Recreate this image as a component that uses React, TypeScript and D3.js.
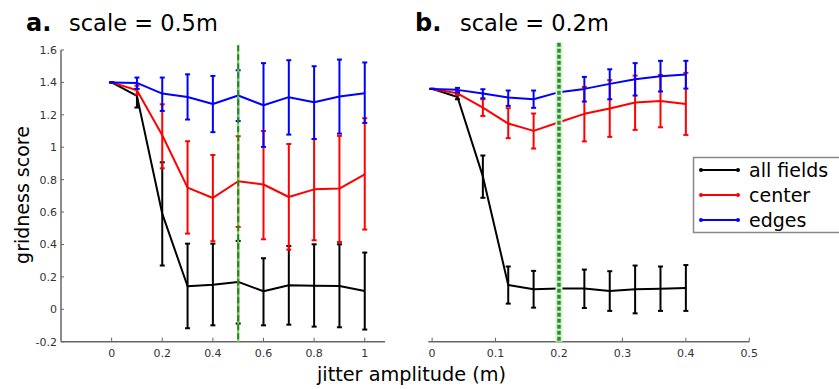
import React from "react";
import * as d3 from "d3";

// ---------- data ----------
const xA = [0, 0.1, 0.2, 0.3, 0.4, 0.5, 0.6, 0.7, 0.8, 0.9, 1.0];
const allA = [1.4, 1.317, 0.59, 0.142, 0.152, 0.169, 0.111, 0.148, 0.146, 0.144, 0.113];
const allALo = [1.4, 1.245, 0.27, -0.117, -0.099, -0.088, -0.099, -0.095, -0.107, -0.111, -0.125];
const allAHi = [1.4, 1.36, 0.907, 0.405, 0.405, 0.422, 0.315, 0.391, 0.401, 0.401, 0.35];
const centerA = [1.4, 1.352, 1.074, 0.751, 0.687, 0.79, 0.77, 0.693, 0.74, 0.745, 0.833];
const centerALo = [1.4, 1.325, 0.87, 0.467, 0.42, 0.508, 0.432, 0.368, 0.426, 0.415, 0.492];
const centerAHi = [1.4, 1.38, 1.265, 1.037, 0.952, 1.068, 1.1, 1.02, 1.05, 1.07, 1.179];
const edgesA = [1.4, 1.397, 1.331, 1.31, 1.267, 1.319, 1.259, 1.309, 1.278, 1.313, 1.333];
const edgesALo = [1.4, 1.36, 1.224, 1.171, 1.093, 1.162, 1.002, 1.078, 1.051, 1.084, 1.15];
const edgesAHi = [1.4, 1.43, 1.43, 1.45, 1.44, 1.475, 1.519, 1.537, 1.5, 1.541, 1.523];

const xB = [0, 0.04, 0.08, 0.12, 0.16, 0.2, 0.24, 0.28, 0.32, 0.36, 0.4];
const allB = [1.36, 1.31, 0.82, 0.15, 0.123, 0.128, 0.128, 0.113, 0.123, 0.126, 0.132];
const allBLo = [1.36, 1.296, 0.688, 0.035, 0.01, 0.01, 0.008, -0.01, -0.025, -0.01, -0.01];
const allBHi = [1.36, 1.33, 0.949, 0.264, 0.237, 0.25, 0.245, 0.235, 0.27, 0.264, 0.273];
const centerB = [1.36, 1.333, 1.245, 1.146, 1.101, 1.154, 1.206, 1.239, 1.276, 1.286, 1.267];
const centerBLo = [1.36, 1.32, 1.193, 1.056, 0.992, 1.05, 1.036, 1.064, 1.107, 1.123, 1.076];
const centerBHi = [1.36, 1.345, 1.296, 1.241, 1.208, 1.26, 1.372, 1.414, 1.442, 1.446, 1.459];
const edgesB = [1.36, 1.354, 1.331, 1.307, 1.296, 1.34, 1.36, 1.391, 1.42, 1.438, 1.449];
const edgesBLo = [1.36, 1.338, 1.302, 1.255, 1.243, 1.3, 1.282, 1.296, 1.319, 1.344, 1.362];
const edgesBHi = [1.36, 1.366, 1.358, 1.35, 1.35, 1.38, 1.434, 1.481, 1.519, 1.533, 1.533];

const yTicks = [-0.2, 0, 0.2, 0.4, 0.6, 0.8, 1, 1.2, 1.4, 1.6];
const xTicksA = [0, 0.2, 0.4, 0.6, 0.8, 1];
const xTicksB = [0, 0.1, 0.2, 0.3, 0.4, 0.5];
const legendLabels = ["all fields", "center", "edges"];
const seriesColors = ["#000000", "#ff0000", "#0000ff"];
const markerA = 0.5;
const markerB = 0.2;

const FONT = "DejaVu Sans, sans-serif";

const y = d3.scaleLinear().domain([-0.2, 1.6]).range([341.7, 50]);
const xa = d3.scaleLinear().domain([-0.2, 1.08]).range([61, 385]);
const xb = d3.scaleLinear().domain([-0.006, 0.5]).range([428.3, 749.3]);

type S = { m: number[]; lo: number[]; hi: number[]; color: string };

function Series({ xs, s, xs_ }: { xs: number[]; s: S; xs_: d3.ScaleLinear<number, number> }) {
  const line = d3
    .line<number>()
    .x((_, i) => xs_(xs[i]))
    .y((v) => y(v));
  return (
    <g>
      <path d={line(s.m) || ""} fill="none" stroke={s.color} strokeWidth={2} strokeLinejoin="round" />
      {xs.map((xv, i) => {
        const cx = xs_(xv);
        return (
          <g key={i} stroke={s.color} strokeWidth={2}>
            <line x1={cx} x2={cx} y1={y(s.lo[i])} y2={y(s.hi[i])} />
            <line x1={cx - 2.5} x2={cx + 2.5} y1={y(s.lo[i])} y2={y(s.lo[i])} />
            <line x1={cx - 2.5} x2={cx + 2.5} y1={y(s.hi[i])} y2={y(s.hi[i])} />
          </g>
        );
      })}
    </g>
  );
}

export default function App() {
  const seriesA: S[] = [
    { m: allA, lo: allALo, hi: allAHi, color: seriesColors[0] },
    { m: centerA, lo: centerALo, hi: centerAHi, color: seriesColors[1] },
    { m: edgesA, lo: edgesALo, hi: edgesAHi, color: seriesColors[2] },
  ];
  const seriesB: S[] = [
    { m: allB, lo: allBLo, hi: allBHi, color: seriesColors[0] },
    { m: centerB, lo: centerBLo, hi: centerBHi, color: seriesColors[1] },
    { m: edgesB, lo: edgesBLo, hi: edgesBHi, color: seriesColors[2] },
  ];
  const axisColor = "#666";
  const tickText = "#333";
  const y0 = y(-0.2);
  return (
    <svg width={839} height={389} style={{ position: "absolute", left: 0, top: 0 }} fontFamily={FONT}>
      <rect width={839} height={389} fill="#fff" />
      {/* titles */}
      <text x={26} y={31} fontSize={24} fontWeight="bold">a.</text>
      <text x={69} y={31} fontSize={22.5}>scale = 0.5m</text>
      <text x={415} y={31} fontSize={24} fontWeight="bold">b.</text>
      <text x={460} y={31} fontSize={22.5}>scale = 0.2m</text>

      {/* panel a axes */}
      <line x1={xa(-0.2)} x2={xa(-0.2)} y1={y(1.6)} y2={y0} stroke={axisColor} strokeWidth={1.5} />
      <line x1={xa(-0.2)} x2={xa(1.08)} y1={y0} y2={y0} stroke={axisColor} strokeWidth={1.5} />
      {yTicks.map((t) => (
        <g key={t}>
          <line x1={xa(-0.2)} x2={xa(-0.2) + 3} y1={y(t)} y2={y(t)} stroke={axisColor} strokeWidth={1} />
          <text x={xa(-0.2) - 4} y={y(t) + 4} fontSize={11} textAnchor="end" fill={tickText}>{t}</text>
        </g>
      ))}
      {xTicksA.map((t) => (
        <g key={t}>
          <line x1={xa(t)} x2={xa(t)} y1={y0} y2={y0 - 4} stroke={axisColor} strokeWidth={1} />
          <text x={xa(t)} y={y0 + 15} fontSize={11} textAnchor="middle" fill={tickText}>{t}</text>
        </g>
      ))}

      {/* panel b axis */}
      <line x1={xb(-0.006)} x2={xb(0.5)} y1={y0} y2={y0} stroke={axisColor} strokeWidth={1.5} />
      {xTicksB.map((t) => (
        <g key={t}>
          <line x1={xb(t)} x2={xb(t)} y1={y0} y2={y0 - 4} stroke={axisColor} strokeWidth={1} />
          <text x={xb(t)} y={y0 + 15} fontSize={11} textAnchor="middle" fill={tickText}>{t}</text>
        </g>
      ))}

      {seriesA.map((s, i) => <Series key={i} xs={xA} s={s} xs_={xa} />)}
      {seriesB.map((s, i) => <Series key={i} xs={xB} s={s} xs_={xb} />)}

      {/* marker lines */}
      <line x1={xa(markerA)} x2={xa(markerA)} y1={y(1.63)} y2={y0} stroke="#7ccf4a" strokeWidth={2} />
      <line x1={xa(markerA)} x2={xa(markerA)} y1={y(1.63)} y2={y0} stroke="#1a8a1a" strokeWidth={2} strokeDasharray="6,3" />
      <rect x={xb(markerB) - 3.5} width={7} y={y(1.645)} height={y0 - y(1.645)} fill="#d4f2c8" />
      <line x1={xb(markerB)} x2={xb(markerB)} y1={y(1.645)} y2={y0} stroke="#2e8b3a" strokeWidth={3.5} strokeDasharray="4,2" />

      {/* axis labels */}
      <text transform={`translate(29,195) rotate(-90)`} fontSize={19} textAnchor="middle">gridness score</text>
      <text x={411.5} y={381} fontSize={19.3} textAnchor="middle">jitter amplitude (m)</text>

      {/* legend */}
      <rect x={693.5} y={157.5} width={150} height={75} fill="#fff" stroke="#888" strokeWidth={1.5} />
      {legendLabels.map((l, i) => {
        const ly = 170 + i * 25;
        return (
          <g key={l}>
            <line x1={701} x2={738} y1={ly} y2={ly} stroke={seriesColors[i]} strokeWidth={2} />
            <circle cx={701} cy={ly} r={2} fill={seriesColors[i]} />
            <circle cx={738} cy={ly} r={2} fill={seriesColors[i]} />
            <text x={749} y={ly + 6.5} fontSize={19}>{l}</text>
          </g>
        );
      })}
    </svg>
  );
}
